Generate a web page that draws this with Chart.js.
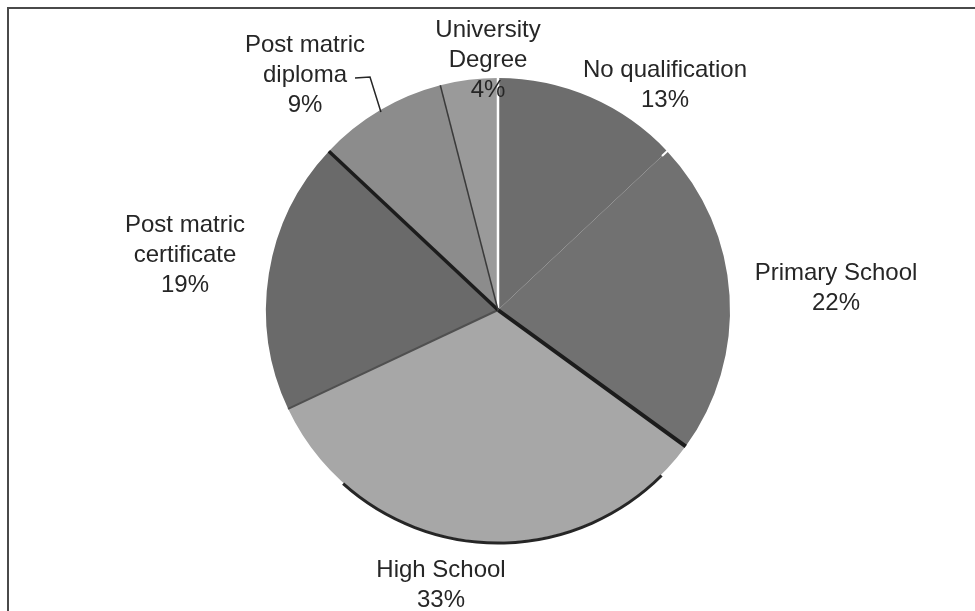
<!DOCTYPE html>
<html>
<head>
<meta charset="utf-8">
<title>Highest qualification</title>
<script src="https://cdn.jsdelivr.net/npm/chart.js@4/dist/chart.umd.min.js"></script>
<style>
  html, body { margin: 0; padding: 0; background: #fff; }
  #wrap { position: relative; width: 975px; height: 611px; overflow: hidden; }
  #frame { position: absolute; left: 7px; top: 7px; width: 980px; height: 700px;
    border-left: 2px solid #4a4a4a; border-top: 2px solid #4a4a4a; box-sizing: border-box; }
  #pie { position: absolute; left: 0; top: 0; }
</style>
</head>
<body>
<div id="wrap">
  <div id="frame"></div>
  <canvas id="pie" width="975" height="611"></canvas>
</div>
<script>
// categories and shares (percent), clockwise from 12 o'clock
const categories = ['No qualification', 'Primary School', 'High School',
  'Post matric certificate', 'Post matric diploma', 'University Degree'];
const shares = [13, 22, 33, 19, 9, 4];

// fills and the radial edge drawn at the start of each slice
const fills = ['#6d6d6d', '#717171', '#a7a7a7', '#6a6a6a', '#8c8c8c', '#9a9a9a'];
const edgeColors = ['#ffffff', null, '#1c1c1c', '#505050', '#1c1c1c', '#3a3a3a'];
const edgeWidths = [2.5, 0, 4, 2, 3.5, 1.5];

// label layout: line breaks, centre x and first baseline
const labelLines = [['No qualification'], ['Primary School'], ['High School'],
  ['Post matric', 'certificate'], ['Post matric', 'diploma'], ['University', 'Degree']];
const labelX = [665, 836, 441, 185, 305, 488];
const labelY = [77, 280, 577, 232, 52, 37];
const lineGap = 30;

const sliceDecor = {
  id: 'sliceDecor',
  afterDatasetsDraw(chart) {
    const ctx = chart.ctx;
    const arcs = chart.getDatasetMeta(0).data;
    ctx.save();
    // dark rim along the bottom of the largest slice
    const hs = arcs[2];
    ctx.beginPath();
    ctx.arc(hs.x, hs.y + 1, hs.outerRadius, hs.startAngle + 0.16, hs.endAngle - 0.4);
    ctx.strokeStyle = '#262626';
    ctx.lineWidth = 3;
    ctx.stroke();
    // radial separators
    arcs.forEach(function (a, i) {
      if (!edgeColors[i]) return;
      ctx.beginPath();
      ctx.moveTo(a.x, a.y);
      ctx.lineTo(a.x + Math.cos(a.startAngle) * a.outerRadius,
                 a.y + Math.sin(a.startAngle) * a.outerRadius);
      ctx.strokeStyle = edgeColors[i];
      ctx.lineWidth = edgeWidths[i];
      ctx.stroke();
    });
    // small notch where the two darkest slices meet
    const p = arcs[1];
    ctx.beginPath();
    ctx.moveTo(p.x + Math.cos(p.startAngle) * (p.outerRadius - 7), p.y + Math.sin(p.startAngle) * (p.outerRadius - 7));
    ctx.lineTo(p.x + Math.cos(p.startAngle) * (p.outerRadius + 1), p.y + Math.sin(p.startAngle) * (p.outerRadius + 1));
    ctx.strokeStyle = '#ffffff';
    ctx.lineWidth = 2;
    ctx.stroke();
    ctx.restore();
  },
  afterDraw(chart) {
    const ctx = chart.ctx;
    ctx.save();
    ctx.font = '24px "Liberation Sans", Arial, sans-serif';
    ctx.fillStyle = '#262626';
    ctx.textAlign = 'center';
    ctx.textBaseline = 'alphabetic';
    categories.forEach(function (c, i) {
      const lines = labelLines[i].concat([shares[i] + '%']);
      lines.forEach(function (t, k) {
        ctx.fillText(t, labelX[i], labelY[i] + k * lineGap);
      });
    });
    // leader line for the diploma label
    const d = chart.getDatasetMeta(0).data[4];
    const mid = (d.startAngle + d.endAngle) / 2;
    ctx.beginPath();
    ctx.moveTo(355, 78);
    ctx.lineTo(370, 77);
    ctx.lineTo(d.x + Math.cos(mid) * (d.outerRadius - 2), d.y + Math.sin(mid) * (d.outerRadius - 2));
    ctx.strokeStyle = '#262626';
    ctx.lineWidth = 1.5;
    ctx.stroke();
    ctx.restore();
  }
};

new Chart(document.getElementById('pie'), {
  type: 'pie',
  data: {
    labels: categories,
    datasets: [{
      data: shares,
      backgroundColor: fills,
      borderWidth: 0
    }]
  },
  options: {
    responsive: false,
    animation: false,
    layout: { padding: { left: 266, right: 245, top: 78, bottom: 69 } },
    plugins: {
      legend: { display: false },
      tooltip: { enabled: false }
    }
  },
  plugins: [sliceDecor]
});
</script>
</body>
</html>
